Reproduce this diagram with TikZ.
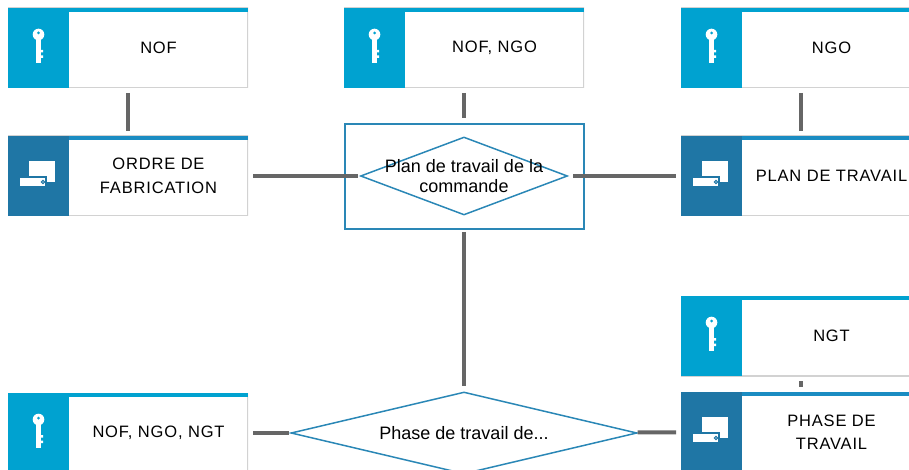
\documentclass[tikz,border=0pt]{standalone}
\usepackage{fontspec}
\setmainfont{Liberation Sans}
\newfontfamily\capsfont[LetterSpace=5]{Liberation Sans}
\usetikzlibrary{positioning,shapes.geometric}

\definecolor{keyblue}{HTML}{00A2D0}
\definecolor{entityblue}{HTML}{1F76A5}
\definecolor{stripblue}{HTML}{1A8CC2}
\definecolor{relblue}{HTML}{2A87B6}
\definecolor{linkgray}{HTML}{666666}
\definecolor{rimgray}{HTML}{D2D2D2}

% point of the icon column, taken from its centre
\newcommand{\ip}[2]{([shift={(#1+30.5,#2)}]path picture bounding box.west)}
\newcommand{\keyglyph}{%
  \fill[white] \ip{0}{-13.5} circle (5.8pt);
  \fill[keyblue] \ip{0}{-15} circle (1.5pt);
  \fill[white] \ip{-2.3}{-9} rectangle \ip{2.3}{15};
  \fill[white] \ip{2.3}{2} rectangle \ip{4.5}{4.5} \ip{2.3}{7.5} rectangle \ip{4.5}{10};}
\newcommand{\entityglyph}{%
  \fill[white] \ip{-9.5}{-15} rectangle \ip{16.5}{6};
  \filldraw[fill=white, draw=entityblue, line width=1.5pt] \ip{-19.5}{1} rectangle \ip{7.5}{11};
  \draw[entityblue, line width=1pt] \ip{4.5}{6} circle (1.6pt);}

\tikzset{
  box/.style={rectangle, minimum width=240pt, minimum height=80pt, inner sep=0pt, outer sep=0pt},
  keybox/.style={box, path picture={
      \draw[rimgray, line width=2pt] (path picture bounding box.north west) rectangle (path picture bounding box.south east);
      \fill[keyblue] (path picture bounding box.north west) rectangle ([xshift=61pt]path picture bounding box.south west);
      \fill[keyblue] (path picture bounding box.north west) rectangle ([yshift=-4pt]path picture bounding box.north east);
      \keyglyph}},
  entitybox/.style={box, path picture={
      \draw[rimgray, line width=2pt] (path picture bounding box.north west) rectangle (path picture bounding box.south east);
      \fill[entityblue] (path picture bounding box.north west) rectangle ([xshift=61pt]path picture bounding box.south west);
      \fill[stripblue] ([xshift=61pt]path picture bounding box.north west) rectangle ([yshift=-4pt]path picture bounding box.north east);
      \entityglyph}},
  boxtext/.style={font=\capsfont\fontsize{16.5}{23.5}\selectfont, align=center, xshift=30.5pt, inner sep=0pt},
  reltext/.style={font=\fontsize{18}{20}\selectfont, align=center, inner sep=0pt},
  relation/.style={diamond, draw=relblue, line width=1.5pt, inner sep=0pt},
  link/.style={draw=linkgray, line width=4pt, shorten <=5pt, shorten >=5pt},
}

\begin{document}
\begin{tikzpicture}[x=1pt,y=-1pt]
  \useasboundingbox (0,0) rectangle (909,470);
  \clip (0,0) rectangle (909,470);

  \node[keybox, label={[boxtext]center:NOF}] (nof) at (128,48) {};
  \node[entitybox, below=48pt of nof, label={[boxtext]center:ORDRE DE\\FABRICATION}] (ordre) {};
  \node[keybox, label={[boxtext]center:NOF, NGO}] (nofngo) at (464,48) {};
  \node[keybox, label={[boxtext]center:NGO}] (ngo) at (801,48) {};
  \node[entitybox, below=48pt of ngo, label={[boxtext]center:PLAN DE TRAVAIL}] (plan) {};
  \node[keybox, label={[boxtext]center:NGT}] (ngt) at (801,336) {};
  \node[entitybox, below=16pt of ngt, label={[boxtext]center:PHASE DE\\TRAVAIL}] (phase) {};
  \node[keybox, label={[boxtext]center:NOF, NGO, NGT}] (nofngongt) at (128,433) {};

  \node[draw=relblue, line width=2pt, minimum width=239pt, minimum height=105pt] (planframe) at (464,176.5) {};
  \node[relation, minimum width=207pt, minimum height=78pt,
        label={[reltext]center:Plan de travail de la\\commande}] (plancmd) at (464,176) {};
  \node[relation, minimum width=346pt, minimum height=82pt,
        label={[reltext]center:Phase de travail de...}] (phasecmd) at (464,433) {};

  \draw[link] (nof) -- (ordre);
  \draw[link] (nofngo) -- (planframe);
  \draw[link] (ngo) -- (plan);
  \draw[link] (ngt) -- (phase);
  \draw[link, shorten >=2pt] (ordre) -- (plancmd);
  \draw[link, shorten <=5pt] (plancmd) -- (plan);
  \draw[link, shorten <=2pt] (planframe) -- (phasecmd);
  \draw[link, shorten >=1pt] (nofngongt) -- (phasecmd);
  \draw[link, shorten <=2pt] (phasecmd) -- (phase);
\end{tikzpicture}
\end{document}
